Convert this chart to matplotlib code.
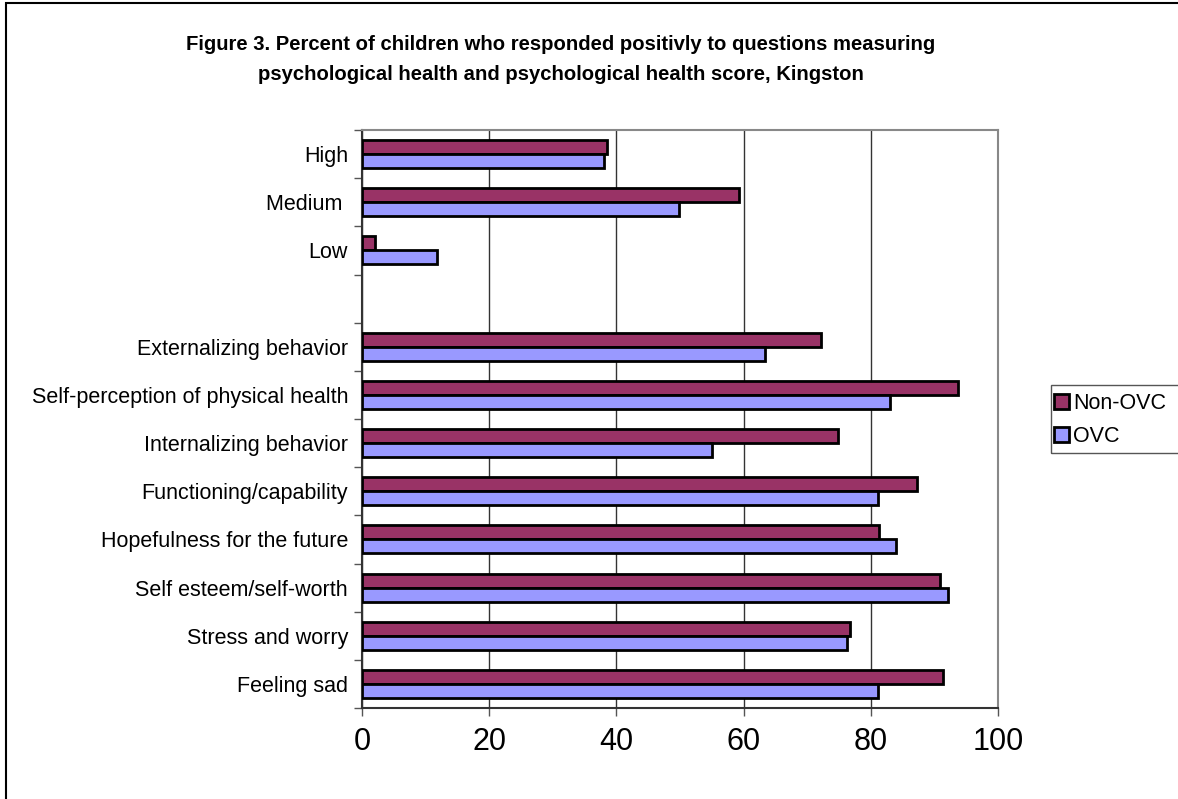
import numpy as np
import matplotlib.pyplot as plt
from matplotlib.patches import Rectangle

plt.rcParams['font.family'] = ['Liberation Sans', 'DejaVu Sans']

# categories, top to bottom ('' is the empty spacer row)
categories = ['High', 'Medium ', 'Low', '',
              'Externalizing behavior', 'Self-perception of physical health',
              'Internalizing behavior', 'Functioning/capability',
              'Hopefulness for the future', 'Self esteem/self-worth',
              'Stress and worry', 'Feeling sad']
non_ovc = [38.6, 59.2, 2.0, np.nan, 72.2, 93.7, 74.8, 87.3, 81.3, 90.9, 76.8, 91.3]
ovc = [38.0, 49.9, 11.8, np.nan, 63.4, 83.0, 55.1, 81.1, 84.0, 92.1, 76.2, 81.1]
xticks = [0, 20, 40, 60, 80, 100]

W, H = 1178, 799
fig = plt.figure(figsize=(W/100, H/100), dpi=100)
ax = fig.add_axes([362/W, 1-708/H, 636/W, 578/H])

y = np.arange(len(categories))
h = 0.29
ax.barh(y - h/2, non_ovc, height=h, color='#993366', edgecolor='black', linewidth=2, label='Non-OVC', zorder=3)
ax.barh(y + h/2, ovc, height=h, color='#9999FF', edgecolor='black', linewidth=2, label='OVC', zorder=3)

ax.set_xlim(0, 100)
ax.set_ylim(len(categories) - 0.5, -0.5)
ax.set_xticks(xticks)
ax.set_xticklabels([str(v) for v in xticks], fontsize=22)
ax.tick_params(axis='x', direction='out', length=6, width=1, pad=8, color='#555555')

# tick marks at the slot boundaries, labels in the middle
ax.set_yticks(np.arange(-0.5, len(categories), 1))
ax.set_yticklabels([])
ax.set_yticks(y, minor=True)
ax.set_yticklabels(categories, minor=True, fontsize=15.5)
ax.tick_params(axis='y', which='major', direction='out', length=6, width=1, color='#555555')
ax.tick_params(axis='y', which='minor', length=0, pad=10)

ax.grid(axis='x', color='#333333', linewidth=1, zorder=0)
for s in ['top', 'right']:
    ax.spines[s].set_color('#888888')
    ax.spines[s].set_linewidth(1.5)
for s in ['left', 'bottom']:
    ax.spines[s].set_color('#333333')
    ax.spines[s].set_linewidth(1.5)

fig.text(561/W, 1-45/H,
         'Figure 3. Percent of children who responded positivly to questions measuring',
         ha='center', va='center', fontsize=14.6, fontweight='bold')
fig.text(561/W, 1-75/H,
         'psychological health and psychological health score, Kingston',
         ha='center', va='center', fontsize=14.6, fontweight='bold')

# legend, its box runs off the right edge like the original
fig.legend(loc='center left', bbox_to_anchor=(1054/W, 1-420/H), fontsize=15.5,
           frameon=False, borderpad=0, borderaxespad=0, handlelength=0.7,
           handleheight=0.7, handletextpad=0.2, labelspacing=0.55)
fig.patches.append(Rectangle((1051/W, 1-453/H), 150/W, 68/H, transform=fig.transFigure,
                             fill=False, edgecolor='#555555', linewidth=1))

# outer chart border
fig.patches.append(Rectangle((6/W, -0.01), 1.2, 1 - 3/H + 0.01, transform=fig.transFigure,
                             fill=False, edgecolor='black', linewidth=1.5))

fig.savefig('out.png', dpi=100)
